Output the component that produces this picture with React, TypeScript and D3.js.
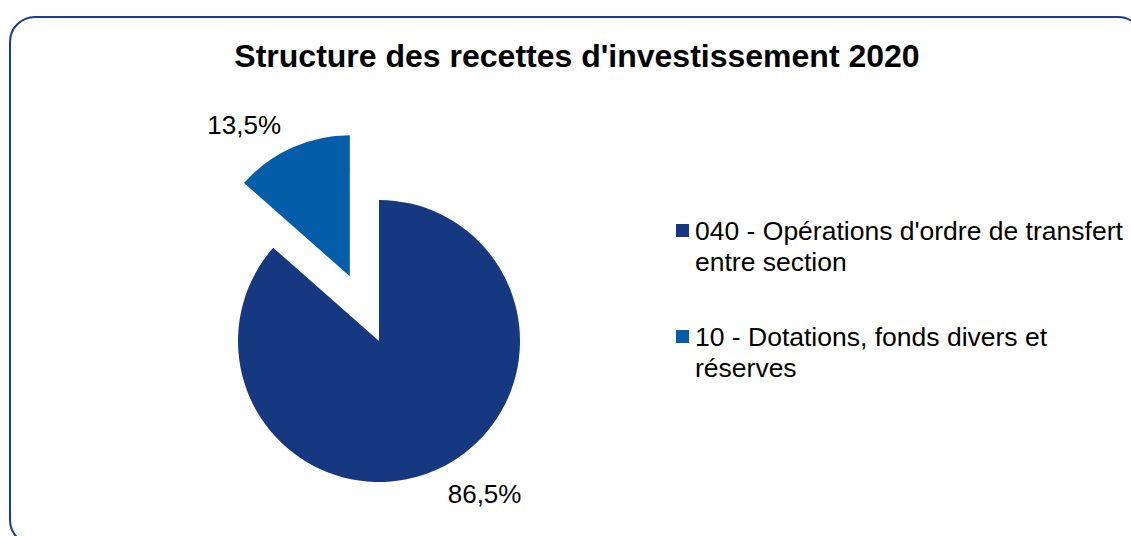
import React from "react";
import * as d3 from "d3";

const categories = [
  "040 - Opérations d'ordre de transfert entre section",
  "10 - Dotations, fonds divers et réserves",
];
const values = [86.5, 13.5];
const valueLabels = ["86,5%", "13,5%"];
const legendLines = [
  ["040 - Opérations d'ordre de transfert", "entre section"],
  ["10 - Dotations, fonds divers et", "réserves"],
];
const colors = ["#163880", "#045DA9"];
const explode = [0, 71];
const title = "Structure des recettes d'investissement 2020";

const W = 1131;
const H = 536;
const cx = 379;
const cy = 341;
const R = 141;
const FONT = "'Liberation Sans', Arial, sans-serif";

export default function App() {
  const pie = d3
    .pie<number>()
    .sort(null)
    .value((d) => d)
    .startAngle(0)
    .endAngle(2 * Math.PI);
  const arcs = pie(values);
  const arc = d3.arc<d3.PieArcDatum<number>>().innerRadius(0).outerRadius(R);

  return (
    <svg
      width={W}
      height={H}
      style={{ position: "absolute", left: 0, top: 0, background: "#fff" }}
      fontFamily={FONT}
    >
      <rect
        x={10}
        y={17}
        width={1133}
        height={528}
        rx={25}
        ry={25}
        fill="#fff"
        stroke="#1B3D8A"
        strokeWidth={2}
      />
      <text
        x={577}
        y={67}
        textAnchor="middle"
        fontSize={32}
        fontWeight="bold"
        fill="#000"
      >
        {title}
      </text>
      {arcs.map((a, i) => {
        const mid = (a.startAngle + a.endAngle) / 2;
        const dx = Math.sin(mid);
        const dy = -Math.cos(mid);
        const ox = cx + dx * explode[i];
        const oy = cy + dy * explode[i];
        const lr = 167;
        const lx = ox + dx * lr;
        const ly = oy + dy * lr;
        return (
          <g key={i}>
            <path
              d={arc(a) || ""}
              transform={`translate(${ox},${oy})`}
              fill={colors[i]}
            />
            <text
              x={lx}
              y={ly + 9.5}
              textAnchor={dx >= 0 ? "start" : "end"}
              fontSize={26}
              fill="#000"
            >
              {valueLabels[i]}
            </text>
          </g>
        );
      })}
      {categories.map((c, i) => {
        const y0 = 240 + i * 106;
        return (
          <g key={c}>
            <rect x={676} y={y0 - 16} width={13} height={13} fill={colors[i]} />
            {legendLines[i].map((line, j) => (
              <text key={j} x={695} y={y0 + j * 30.5} fontSize={26.5} fill="#000">
                {line}
              </text>
            ))}
          </g>
        );
      })}
    </svg>
  );
}
